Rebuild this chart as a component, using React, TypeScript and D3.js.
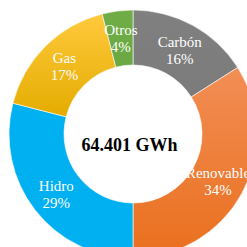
import React from "react";
import * as d3 from "d3";

const categories = ["Carbón", "Renovable", "Hidro", "Gas", "Otros"];
const values = [16, 34, 29, 17, 4];
const percentLabels = ["16%", "34%", "29%", "17%", "4%"];
const centerLabel = "64.401 GWh";

const fills: { top: string; bottom: string }[] = [
  { top: "#808080", bottom: "#7b7b7b" },
  { top: "#f28e55", bottom: "#e96f1d" },
  { top: "#00b0f0", bottom: "#00b0f0" },
  { top: "#ffc93d", bottom: "#e4ac00" },
  { top: "#70ad47", bottom: "#6aa843" },
];

export default function App() {
  const W = 247, H = 247;
  const cx = 133, cy = 134;
  const rOuter = 124, rInner = 69;
  const pie = d3.pie<number>().sort(null).value((d) => d);
  const arcs = pie(values);
  const arc = d3.arc<d3.PieArcDatum<number>>().innerRadius(rInner).outerRadius(rOuter);
  const labelArc = d3.arc<d3.PieArcDatum<number>>().innerRadius(97).outerRadius(97);
  return (
    <svg width={W} height={H} style={{ position: "absolute", left: 0, top: 0, background: "#fff" }}>
      <defs>
        {fills.map((f, i) => (
          <linearGradient key={i} id={`g${i}`} x1="0" y1="0" x2="0" y2="1">
            <stop offset="0%" stopColor={f.top} />
            <stop offset="100%" stopColor={f.bottom} />
          </linearGradient>
        ))}
      </defs>
      <g transform={`translate(${cx},${cy})`}>
        {arcs.map((a, i) => (
          <path key={i} d={arc(a) || ""} fill={`url(#g${i})`} stroke="#ffffff" strokeWidth={0.6} />
        ))}
        {arcs.map((a, i) => {
          const [x, y] = labelArc.centroid(a);
          return (
            <text key={`t${i}`} x={x} y={y} fill="#ffffff" fontFamily="'Liberation Serif', 'Times New Roman', serif" fontSize={15} textAnchor="middle">
              <tspan x={x} dy={-2.5}>{categories[i]}</tspan>
              <tspan x={x} dy={17}>{percentLabels[i]}</tspan>
            </text>
          );
        })}
      </g>
      <text x={129.5} y={151} textAnchor="middle" fontFamily="'Liberation Serif', 'Times New Roman', serif" fontWeight="bold" fontSize={18} fill="#000">
        {centerLabel}
      </text>
    </svg>
  );
}
